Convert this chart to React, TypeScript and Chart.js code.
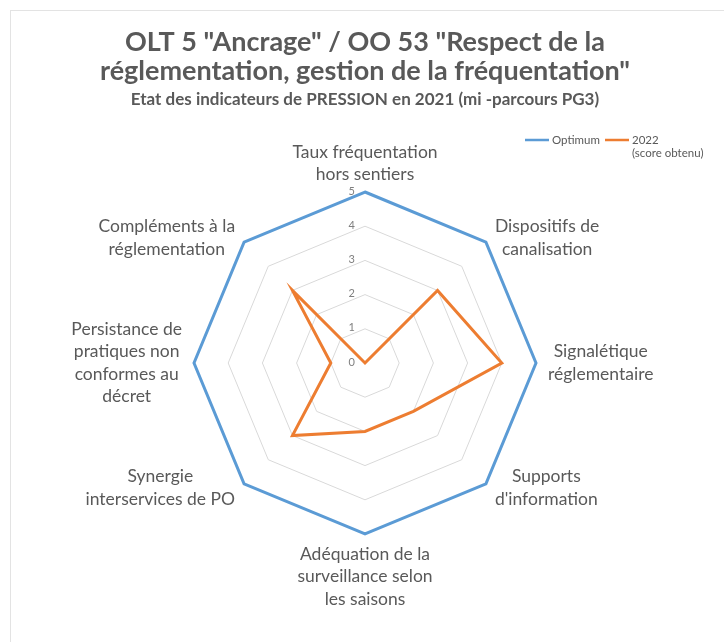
import React, { useEffect, useRef } from "react";
import { Chart, registerables } from "chart.js";

Chart.register(...registerables);

// ---------- data ----------
const categories: string[][] = [
  ["Taux fréquentation", "hors sentiers"],
  ["Dispositifs de", "canalisation"],
  ["Signalétique", "réglementaire"],
  ["Supports", "d'information"],
  ["Adéquation de la", "surveillance selon", "les saisons"],
  ["Synergie", "interservices de PO"],
  ["Persistance de", "pratiques non", "conformes au", "décret"],
  ["Compléments à la", "réglementation"],
];
const optimumValues = [5, 5, 5, 5, 5, 5, 5, 5];
const score2022Values = [0, 3, 4, 2, 2, 3, 1, 3];
const optimumLabel = ["Optimum"];
const score2022Label = ["2022", "(score obtenu)"];
const tickValues = [0, 1, 2, 3, 4, 5];
const titleLines = [
  'OLT 5 "Ancrage" / OO 53 "Respect de la',
  'réglementation, gestion de la fréquentation"',
];
const subtitleText = "Etat des indicateurs de PRESSION en 2021 (mi -parcours PG3)";

// ---------- style ----------
const FONT = "Lato, 'Open Sans', sans-serif";
const TEXT = "#595959";
const BLUE = "#5b9bd5";
const ORANGE = "#ed7d31";

const overlayPlugin = {
  id: "overlay",
  afterDatasetsDraw(chart: any) {
    const ctx: CanvasRenderingContext2D = chart.ctx;
    const scale = chart.scales.r;
    ctx.save();

    // tick labels
    ctx.font = `11px ${FONT}`;
    ctx.fillStyle = "#7f7f7f";
    ctx.textAlign = "right";
    ctx.textBaseline = "middle";
    tickValues.forEach((v) => {
      const p = scale.getPointPositionForValue(0, v);
      ctx.fillText(String(v), p.x - 10, p.y - 1);
    });

    // point labels
    const labels = chart.data.labels as string[][];
    const n = labels.length;
    const lh = 22.5;
    ctx.font = `17.5px ${FONT}`;
    ctx.fillStyle = TEXT;
    ctx.textAlign = "center";
    ctx.textBaseline = "middle";
    for (let i = 0; i < n; i++) {
      const lines = labels[i];
      const p = scale.getPointPositionForValue(i, scale.max);
      const ang = (i * 360) / n;
      const w = Math.max(...lines.map((l) => ctx.measureText(l).width));
      const h = lines.length * lh;
      let cx = p.x;
      let cy = p.y;
      if (ang === 0) {
        cy = p.y - 6 - h / 2;
      } else if (ang === 180) {
        cy = p.y + 9 + h / 2;
      } else {
        const right = ang < 180;
        const hp = ang === 90 || ang === 270 ? 12 : 9;
        cx = right ? p.x + hp + w / 2 : p.x - hp - w / 2;
        if (ang === 90 || ang === 270) cy = p.y;
        else if (ang < 90 || ang > 270) cy = p.y - 4;
        else cy = p.y + 4;
      }
      lines.forEach((l, k) => {
        ctx.fillText(l, cx, cy - h / 2 + lh / 2 + k * lh);
      });
    }

    // legend
    ctx.font = `11.5px ${FONT}`;
    ctx.textAlign = "left";
    ctx.textBaseline = "middle";
    const legendX = [525, 605];
    const legendY = 140;
    chart.data.datasets.forEach((ds: any, i: number) => {
      const x = legendX[i];
      ctx.strokeStyle = ds.borderColor;
      ctx.lineWidth = 2.5;
      ctx.beginPath();
      ctx.moveTo(x, legendY);
      ctx.lineTo(x + 24, legendY);
      ctx.stroke();
      ctx.fillStyle = TEXT;
      (ds.legendLines as string[]).forEach((t, k) => {
        ctx.fillText(t, x + 27, legendY + k * 13);
      });
    });

    ctx.restore();
  },
};

export default function App() {
  const ref = useRef<HTMLCanvasElement>(null);

  useEffect(() => {
    if (!ref.current) return;
    const chart = new Chart(ref.current, {
      type: "radar",
      data: {
        labels: categories as any,
        datasets: [
          {
            label: optimumLabel.join(" "),
            legendLines: optimumLabel,
            data: optimumValues,
            borderColor: BLUE,
            backgroundColor: "transparent",
            borderWidth: 3,
            pointRadius: 0,
            pointHoverRadius: 0,
            fill: false,
          } as any,
          {
            label: score2022Label.join(" "),
            legendLines: score2022Label,
            data: score2022Values,
            borderColor: ORANGE,
            backgroundColor: "transparent",
            borderWidth: 3,
            pointRadius: 0,
            pointHoverRadius: 0,
            fill: false,
          } as any,
        ],
      },
      options: {
        responsive: false,
        animation: false,
        layout: { padding: { top: 0, bottom: 108, left: 6, right: 0 } },
        plugins: {
          legend: { display: false },
          tooltip: { enabled: false },
          title: {
            display: true,
            text: titleLines,
            color: TEXT,
            font: { family: FONT, size: 27, weight: "bold", lineHeight: "29px" },
            padding: { top: 27.5, bottom: 0 },
          },
          subtitle: {
            display: true,
            text: subtitleText,
            color: TEXT,
            font: { family: FONT, size: 17, weight: "bold", lineHeight: "18px" },
            padding: { top: 5, bottom: 83.5 },
          },
        },
        scales: {
          r: {
            min: 0,
            max: 5,
            ticks: { stepSize: 1, display: false },
            grid: { color: "#d9d9d9", lineWidth: 1 },
            angleLines: { display: false },
            pointLabels: { display: false },
          },
        },
      } as any,
      plugins: [overlayPlugin],
    });
    return () => chart.destroy();
  }, []);

  return (
    <div
      style={{
        position: "fixed",
        left: 0,
        top: 0,
        width: 724,
        height: 642,
        background: "#ffffff",
        overflow: "hidden",
      }}
    >
      <div
        style={{
          position: "absolute",
          left: 10,
          top: 10,
          right: 0,
          bottom: 0,
          borderTop: "1px solid #e3e3e3",
          borderLeft: "1px solid #e3e3e3",
        }}
      />
      <canvas
        ref={ref}
        width={724}
        height={642}
        style={{ position: "absolute", left: 0, top: 0, display: "block" }}
      />
    </div>
  );
}
